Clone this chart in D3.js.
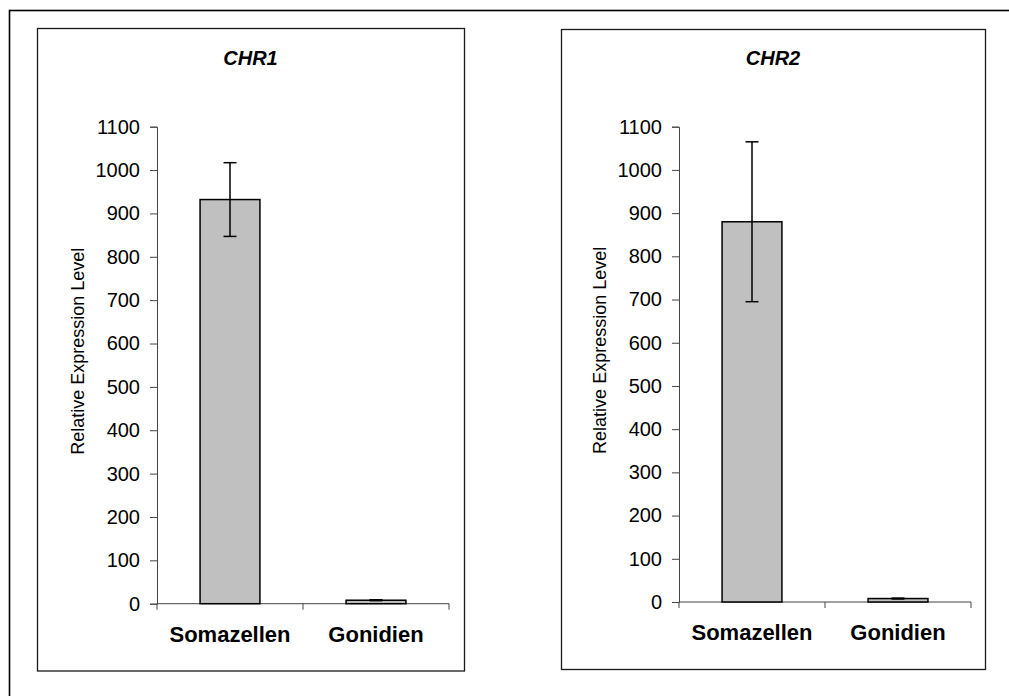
<!DOCTYPE html>
<html>
<head>
<meta charset="utf-8">
<script src="https://cdn.jsdelivr.net/npm/d3@7"></script>
<style>
  html, body { margin: 0; padding: 0; background: #fff; }
  svg { display: block; font-family: Arial, "Liberation Sans", sans-serif; }
</style>
</head>
<body>
<svg id="chart" width="1009" height="696"></svg>
<script>
// ---- data ----
const categories = ["Somazellen", "Gonidien"];
const panelTitles = ["CHR1", "CHR2"];
const chr1Values = [932, 8];
const chr1Errors = [85, 1];
const chr2Values = [880, 8];
const chr2Errors = [185, 1];
const yTicks = [0, 100, 200, 300, 400, 500, 600, 700, 800, 900, 1000, 1100];
const yLabel = "Relative Expression Level";

// ---- layout ----
const layouts = [
  { frame: [37, 28, 464, 670.5], x0: 157, x1: 449, yTop: 126.7, yBot: 603.7, titleY: 65, catY: 642 },
  { frame: [561, 29, 985, 669], x0: 679, x1: 971, yTop: 126.7, yBot: 602, titleY: 65, catY: 640 }
];
const panels = [
  { title: panelTitles[0], values: chr1Values, errors: chr1Errors },
  { title: panelTitles[1], values: chr2Values, errors: chr2Errors }
];

const svg = d3.select("#chart");

// outer border (extends beyond the viewport on right & bottom)
svg.append("rect")
  .attr("x", 9.5).attr("y", 10.5)
  .attr("width", 1100).attr("height", 800)
  .attr("fill", "none").attr("stroke", "#000").attr("stroke-width", 1.6);

panels.forEach((p, i) => {
  const L = layouts[i];
  const g = svg.append("g");

  // frame
  g.append("rect")
    .attr("x", L.frame[0] + 0.5).attr("y", L.frame[1] + 0.5)
    .attr("width", L.frame[2] - L.frame[0]).attr("height", L.frame[3] - L.frame[1])
    .attr("fill", "#fff").attr("stroke", "#1a1a1a").attr("stroke-width", 1.3);

  const x = d3.scaleBand().domain(categories).range([L.x0, L.x1]).padding(0);
  const y = d3.scaleLinear().domain([0, 1100]).range([L.yBot, L.yTop]);
  const barW = x.bandwidth() * 0.41;

  // y axis
  const yAxis = d3.axisLeft(y).tickValues(yTicks).tickSize(7).tickPadding(10).tickFormat(d3.format("d"));
  const ya = g.append("g").attr("transform", `translate(${L.x0},0)`).call(yAxis);
  ya.select(".domain").attr("stroke", "#444").attr("stroke-width", 1);
  ya.selectAll(".tick line").attr("stroke", "#444");
  ya.selectAll(".tick text").attr("fill", "#000").attr("font-size", 20)
    .attr("font-family", "Arial, 'Liberation Sans', sans-serif");

  // x axis baseline with ticks at band boundaries
  g.append("line")
    .attr("x1", L.x0).attr("x2", L.x1).attr("y1", y(0)).attr("y2", y(0))
    .attr("stroke", "#444").attr("stroke-width", 1);
  const boundaries = [x.range()[0]].concat(categories.map(c => x(c) + x.bandwidth()));
  g.selectAll(".xtick").data(boundaries).enter().append("line")
    .attr("x1", d => d).attr("x2", d => d)
    .attr("y1", y(0)).attr("y2", y(0) + 6)
    .attr("stroke", "#444").attr("stroke-width", 1);

  // category labels
  g.selectAll(".cat").data(categories).enter().append("text")
    .attr("x", d => x(d) + x.bandwidth() / 2)
    .attr("y", L.catY)
    .attr("text-anchor", "middle")
    .attr("font-size", 22).attr("font-weight", "bold")
    .attr("fill", "#000")
    .text(d => d);

  // bars
  g.selectAll(".bar").data(p.values).enter().append("rect")
    .attr("x", (d, j) => x(categories[j]) + x.bandwidth() / 2 - barW / 2)
    .attr("y", d => y(d))
    .attr("width", barW)
    .attr("height", d => y(0) - y(d))
    .attr("fill", "#c0c0c0").attr("stroke", "#000").attr("stroke-width", 1.5);

  // error bars
  const cap = 6.5;
  p.values.forEach((v, j) => {
    const cx = x(categories[j]) + x.bandwidth() / 2;
    const e = p.errors[j];
    const eg = g.append("g").attr("stroke", "#000").attr("stroke-width", 1.5);
    eg.append("line").attr("x1", cx).attr("x2", cx).attr("y1", y(v + e)).attr("y2", y(v - e));
    eg.append("line").attr("x1", cx - cap).attr("x2", cx + cap).attr("y1", y(v + e)).attr("y2", y(v + e));
    eg.append("line").attr("x1", cx - cap).attr("x2", cx + cap).attr("y1", y(v - e)).attr("y2", y(v - e));
  });

  // title
  g.append("text")
    .attr("x", (L.frame[0] + L.frame[2]) / 2)
    .attr("y", L.titleY)
    .attr("text-anchor", "middle")
    .attr("font-size", 20).attr("font-weight", "bold").attr("font-style", "italic")
    .attr("fill", "#000")
    .text(p.title);

  // y label
  const ly = (L.yTop + L.yBot) / 2 - 14;
  g.append("text")
    .attr("transform", `translate(${L.x0 - 73},${ly}) rotate(-90)`)
    .attr("text-anchor", "middle")
    .attr("font-size", 18)
    .attr("fill", "#000")
    .text(yLabel);
});
</script>
</body>
</html>
